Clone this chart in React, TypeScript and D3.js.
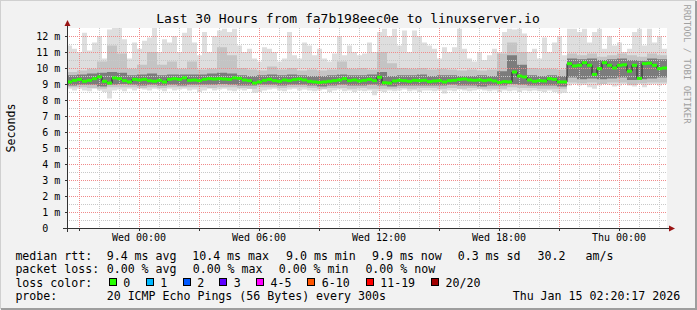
import React from "react";
import * as d3 from "d3";

// ---- data (ms), median every 15 min, smoke envelope every 15 min, inner bands every 30 min ----
const medianRtt = [
  9.13, 9.23, 9.29, 9.17, 9.23, 9.33, 9.44, 9.17, 9.06, 9.38, 9.33, 9.21, 9.13, 9.29, 9.25, 9.29, 9.21, 9.17, 9.23, 9.13, 9.29, 9.33, 9.29, 9.38,
  9.23, 9.25, 9.21, 9.29, 9.33, 9.31, 9.33, 9.31, 9.29, 9.38, 9.35, 9.25, 9.21, 9.06, 9.13, 9.23, 9.29, 9.21, 9.17, 9.25, 9.21, 9.27, 9.31, 9.25,
  9.17, 9.13, 9.10, 9.13, 9.17, 9.21, 9.25, 9.33, 9.21, 9.25, 9.19, 9.23, 9.29, 9.21, 9.42, 9.08, 9.06, 9.19, 9.23, 9.21, 9.17, 9.23, 9.21, 9.23,
  9.15, 9.19, 9.21, 9.13, 9.21, 9.23, 9.29, 9.31, 9.25, 9.23, 9.25, 9.21, 9.25, 9.19, 9.10, 9.15, 9.13, 9.75, 9.50, 9.44, 9.25, 9.17, 9.21, 9.19,
  9.33, 9.29, 9.13, 9.13, 10.27, 10.13, 10.17, 10.33, 10.17, 9.60, 9.96, 10.33, 10.17, 10.0, 10.17, 10.2, 9.80, 10.17, 9.35, 10.27, 10.3, 10.17, 9.96, 10.0,
];

const pingMax = [
  11.4, 11.2, 11.0, 12.2, 11.1, 11.6, 12.0, 10.6, 12.4, 12.5, 12.5, 11.8, 10.6, 11.6, 11.2, 11.7, 11.9, 12.5, 11.0, 11.8, 11.6, 12.0, 11.0, 12.2,
  12.5, 11.6, 10.8, 12.25, 11.0, 12.0, 12.35, 12.45, 12.25, 12.45, 11.4, 11.0, 11.2, 10.6, 10.4, 11.3, 11.2, 11.0, 10.4, 10.6, 12.25, 10.8, 10.6, 11.6,
  11.4, 10.8, 11.2, 10.6, 10.4, 10.9, 12.0, 10.8, 11.4, 11.0, 10.8, 10.9, 11.6, 11.0, 12.25, 12.45, 12.0, 12.45, 11.4, 12.35, 11.0, 12.35, 12.0, 11.6,
  11.4, 11.2, 10.6, 11.3, 11.0, 11.3, 12.45, 11.2, 10.6, 10.4, 11.0, 10.5, 10.8, 11.2, 11.0, 12.25, 12.45, 12.4, 12.45, 12.15, 11.0, 11.2, 10.6, 11.9,
  11.0, 11.6, 12.0, 10.8, 12.45, 12.45, 12.25, 12.45, 11.6, 12.25, 12.45, 11.2, 12.0, 11.4, 11.6, 11.0, 11.2, 12.25, 12.45, 11.4, 12.45, 11.6, 12.0, 11.2,
];

const pingMin = [
  8.7, 8.6, 8.7, 8.6, 8.55, 8.7, 8.6, 8.5, 8.1, 8.6, 8.65, 8.55, 8.7, 8.6, 8.7, 8.65, 8.6, 8.7, 8.65, 8.55, 8.7, 8.6, 8.65, 8.7,
  8.6, 8.65, 8.5, 8.6, 8.7, 8.6, 8.65, 8.7, 8.6, 8.55, 8.65, 8.6, 8.7, 8.45, 8.5, 8.6, 8.65, 8.7, 8.6, 8.55, 8.65, 8.7, 8.6, 8.65,
  8.6, 8.55, 8.6, 8.65, 8.5, 8.6, 8.65, 8.55, 8.6, 8.5, 8.6, 8.55, 8.6, 8.3, 8.55, 8.5, 8.6, 8.55, 8.6, 8.65, 8.55, 8.6, 8.5, 8.6,
  8.6, 8.55, 8.6, 8.4, 8.6, 8.55, 8.65, 8.6, 8.55, 8.6, 8.65, 8.6, 8.55, 8.6, 8.5, 8.6, 8.55, 8.6, 8.5, 8.6, 8.55, 8.6, 8.55, 8.5,
  8.6, 8.5, 8.4, 8.45, 8.9, 9.0, 8.9, 8.95, 8.8, 8.7, 8.9, 9.0, 8.95, 8.85, 8.9, 9.0, 8.9, 8.85, 9.0, 8.8, 8.95, 9.0, 8.9, 9.0,
];

const upperMid = [
  9.75, 9.85, 9.95, 10.4, 11.4, 10.9, 9.95, 10.2, 11.0, 10.2, 10.4, 9.95,
  10.4, 9.9, 9.95, 11.3, 10.8, 10.0, 9.9, 9.85, 10.1, 9.9, 10.0, 9.85,
  9.9, 9.85, 9.9, 10.4, 9.95, 10.0, 9.9, 11.0, 10.3, 10.0, 9.95, 10.0,
  9.9, 9.95, 9.9, 9.85, 9.9, 9.85, 9.9, 10.9, 11.6, 11.0, 10.0, 9.95,
  9.95, 9.9, 10.9, 10.8, 10.9, 10.7, 10.8, 10.9, 10.8, 10.7, 10.9, 10.8,
];
const upperDark = [
  9.55, 9.6, 9.65, 9.7, 9.75, 9.7, 9.55, 9.6, 9.65, 9.55, 9.6, 9.6,
  9.6, 9.6, 9.65, 9.7, 9.65, 9.55, 9.5, 9.55, 9.6, 9.55, 9.6, 9.55,
  9.5, 9.5, 9.55, 9.6, 9.55, 9.55, 9.6, 9.75, 9.5, 9.55, 9.55, 9.6,
  9.5, 9.55, 9.55, 9.5, 9.5, 9.55, 9.5, 9.8, 10.8, 10.2, 9.55, 9.5,
  9.55, 9.5, 10.6, 10.55, 10.6, 10.5, 10.55, 10.6, 10.5, 10.45, 10.6, 10.55,
];
const lowerDark = [
  8.9, 8.95, 8.95, 8.85, 8.95, 9.0, 8.95, 8.9, 8.95, 8.9, 8.95, 8.9,
  8.95, 8.95, 8.95, 9.0, 8.95, 8.9, 8.9, 8.95, 8.95, 8.9, 8.95, 8.95,
  8.9, 8.85, 8.9, 8.95, 8.9, 8.9, 8.95, 8.9, 8.85, 8.9, 8.9, 8.9,
  8.9, 8.9, 8.95, 8.9, 8.9, 8.85, 8.9, 8.9, 9.0, 8.95, 8.9, 8.9,
  8.9, 8.85, 9.4, 9.3, 9.35, 9.3, 9.35, 9.4, 9.25, 9.3, 9.35, 9.4,
];
const lowerMid = [
  8.8, 8.8, 8.75, 8.7, 8.8, 8.8, 8.8, 8.75, 8.8, 8.75, 8.8, 8.8,
  8.8, 8.8, 8.75, 8.8, 8.8, 8.75, 8.7, 8.8, 8.8, 8.75, 8.8, 8.8,
  8.75, 8.7, 8.75, 8.75, 8.7, 8.75, 8.7, 8.7, 8.7, 8.75, 8.7, 8.75,
  8.75, 8.7, 8.75, 8.7, 8.75, 8.7, 8.7, 8.7, 8.8, 8.75, 8.75, 8.7,
  8.7, 8.7, 9.1, 9.05, 9.1, 9.0, 9.1, 9.1, 8.95, 9.05, 9.1, 9.1,
];

const yTickValues = [0, 1, 2, 3, 4, 5, 6, 7, 8, 9, 10, 11, 12];
const yTickLabels = ["0", "1 m", "2 m", "3 m", "4 m", "5 m", "6 m", "7 m", "8 m", "9 m", "10 m", "11 m", "12 m"];
const xTickLabels = ["Wed 00:00", "Wed 06:00", "Wed 12:00", "Wed 18:00", "Thu 00:00"];

const titleText = "Last 30 Hours from fa7b198eec0e to linuxserver.io";
const rttLabel = "median rtt:";
const rttStats = ["9.4 ms avg", "10.4 ms max", "9.0 ms min", "9.9 ms now", "0.3 ms sd", "30.2", "am/s"];
const lossLabel = "packet loss:";
const lossStats = ["0.00 % avg", "0.00 % max", "0.00 % min", "0.00 % now"];
const lossColorLabel = "loss color:";
const lossColorNames = ["0", "1", "2", "3", "4-5", "6-10", "11-19", "20/20"];
const lossColorValues = ["#26ff00", "#00b8ff", "#0059ff", "#5e00ff", "#ff00ff", "#ff5500", "#ff0000", "#a00000"];
const probeLabel = "probe:";
const probeText = "20 ICMP Echo Pings (56 Bytes) every 300s";
const stampText = "Thu Jan 15 02:20:17 2026";

// ---- layout ----
const W = 697, H = 310;
const L = 67, R = 667, T = 28, B = 228;
const FONT = "'DejaVu Sans Mono', monospace";
const rttX = [106.7, 192.2, 286, 372, 457.7, 537.5, 585.5];
const lossX = [106.7, 192.7, 278.7, 365.4];
const boxX = [108.7, 145.7, 182.7, 219.3, 256, 307.3, 365.7, 431];
const legY = [259.7, 273.1, 286.5, 299.9];

export default function App() {
  const start = new Date(2026, 0, 13, 20, 24, 0);
  const end = d3.timeMinute.offset(start, 30 * 60);
  const x = d3.scaleTime().domain([start, end]).range([L, R]);
  const y = d3.scaleLinear().domain([0, 12.5]).range([B, T]);
  const tAt = (i: number, step: number) => d3.timeMinute.offset(start, i * step);

  const band = (lo: number[], hi: number[], step: number) => {
    const pts = lo.map((v, i) => ({ t: tAt(i, step), lo: v, hi: hi[i] }));
    pts.push({ t: tAt(lo.length, step), lo: lo[lo.length - 1], hi: hi[hi.length - 1] });
    return d3
      .area<any>()
      .x((d) => x(d.t))
      .y0((d) => y(d.lo))
      .y1((d) => y(d.hi))
      .curve(d3.curveStepAfter)(pts) as string;
  };

  const medPts = medianRtt.map((v, i) => ({ t: tAt(i, 15), v }));
  medPts.push({ t: tAt(medianRtt.length, 15), v: medianRtt[medianRtt.length - 1] });
  const medLine = d3
    .line<any>()
    .x((d) => x(d.t))
    .y((d) => y(d.v))
    .curve(d3.curveStepAfter)(medPts) as string;

  const hours = d3.timeHour.range(d3.timeMinute.offset(start, 1), end);
  const minorX = hours.filter((h) => h.getHours() % 3 !== 0);
  const majorX = hours.filter((h) => h.getHours() % 3 === 0);
  const labelX = hours.filter((h) => h.getHours() % 6 === 0);
  const minorY = d3.range(0.5, 12.5, 1);
  const majorY = yTickValues.filter((v) => v > 0);

  const crisp = (v: number) => Math.round(v) + 0.5;

  return (
    <svg width={W} height={H} style={{ display: "block", position: "absolute", left: 0, top: 0 }} fontFamily={FONT}>
      <style>{"body{margin:0}"}</style>
      <rect x={0} y={0} width={W} height={H} fill="#f2f2f2" />
      {/* 3D frame */}
      <path d={`M0,${H - 1}V0H${W - 1}`} stroke="#d0d0d0" strokeWidth={2} fill="none" />
      <path d={`M1,${H - 1}H${W - 1}V1`} stroke="#9e9e9e" strokeWidth={2} fill="none" />
      {/* canvas */}
      <rect x={L} y={T} width={R - L} height={B - T} fill="#ffffff" />

      {/* smoke */}
      <path d={band(pingMin, pingMax, 15)} fill="#dedede" />
      <path d={band(lowerMid, upperMid, 30)} fill="#c4c4c4" />
      <path d={band(lowerDark, upperDark, 30)} fill="#7c7c7c" />

      {/* grid */}
      <g strokeDasharray="1,1" strokeWidth={1} fill="none">
        {minorX.map((h, i) => (
          <line key={"mx" + i} x1={crisp(x(h))} x2={crisp(x(h))} y1={T} y2={B} stroke="#c8c8c8" />
        ))}
        {minorY.map((v, i) => (
          <line key={"my" + i} x1={L} x2={R} y1={crisp(y(v))} y2={crisp(y(v))} stroke="#c8c8c8" />
        ))}
        {majorX.map((h, i) => (
          <line key={"Mx" + i} x1={crisp(x(h))} x2={crisp(x(h))} y1={T} y2={B} stroke="#f08a8a" />
        ))}
        {majorY.map((v, i) => (
          <line key={"My" + i} x1={L} x2={R} y1={crisp(y(v))} y2={crisp(y(v))} stroke="#f08a8a" />
        ))}
      </g>

      {/* median */}
      <path d={medLine} fill="none" stroke="#202020" strokeWidth={1} />
      {medianRtt.map((v, i) => (
        <rect
          key={"m" + i}
          x={x(tAt(i, 15))}
          width={x(tAt(i + 1, 15)) - x(tAt(i, 15))}
          y={y(v) - 1.5}
          height={3}
          fill={lossColorValues[0]}
        />
      ))}

      {/* axes */}
      <g stroke="#333" strokeWidth={1}>
        <line x1={L - 4} x2={R + 3} y1={B + 0.5} y2={B + 0.5} />
        <line x1={L + 0.5} x2={L + 0.5} y1={B + 4} y2={T - 4} />
        {majorY.map((v, i) => (
          <line key={"ty" + i} x1={L - 2} x2={L} y1={crisp(y(v))} y2={crisp(y(v))} />
        ))}
        {majorX.map((h, i) => (
          <line key={"tx" + i} x1={crisp(x(h))} x2={crisp(x(h))} y1={B + 1} y2={B + 3} />
        ))}
      </g>
      <path d={`M${L + 0.5},${T - 8}L${L - 2.5},${T - 2}L${L + 3.5},${T - 2}Z`} fill="#9a1414" />
      <path d={`M${R + 8},${B + 0.5}L${R + 2},${B - 2.5}L${R + 2},${B + 3.5}Z`} fill="#9a1414" />

      {/* y tick labels */}
      <g fontSize={10} fill="#000" textAnchor="end">
        {yTickValues.map((v, i) => (
          <text key={"yl" + i} x={yTickLabels[i].length > 1 ? 60.3 : 48.3} y={y(v) + 3.6}>
            {yTickLabels[i]}
          </text>
        ))}
      </g>
      {/* x tick labels */}
      <g fontSize={10} fill="#000" textAnchor="middle">
        {labelX.map((h, i) => (
          <text key={"xl" + i} x={x(h)} y={240.5}>
            {xTickLabels[i]}
          </text>
        ))}
      </g>

      {/* title */}
      <text x={348} y={23} fontSize={13} textAnchor="middle" fill="#000">
        {titleText}
      </text>
      {/* axis title */}
      <text transform="translate(15,128) rotate(-90)" fontSize={11.6} textAnchor="middle" fill="#000">
        Seconds
      </text>
      {/* watermark */}
      <text transform="translate(683.5,64) rotate(90)" fontSize={9} textAnchor="middle" fill="#a0a0a0">
        RRDTOOL / TOBI OETIKER
      </text>

      {/* legend */}
      <g fontSize={11.6} fill="#000" style={{ whiteSpace: "pre" }}>
        <text x={15.4} y={legY[0]}>{rttLabel}</text>
        {rttStats.map((s, i) => (
          <text key={"r" + i} x={rttX[i]} y={legY[0]}>{s}</text>
        ))}
        <text x={15.4} y={legY[1]}>{lossLabel}</text>
        {lossStats.map((s, i) => (
          <text key={"l" + i} x={lossX[i]} y={legY[1]}>{s}</text>
        ))}
        <text x={15.4} y={legY[2]}>{lossColorLabel}</text>
        {lossColorNames.map((s, i) => (
          <g key={"c" + i}>
            <rect x={Math.round(boxX[i]) + 0.5} y={278.5} width={7} height={7} fill={lossColorValues[i]} stroke="#000" strokeWidth={1} />
            <text x={boxX[i] + 14.5} y={legY[2]}>{s}</text>
          </g>
        ))}
        <text x={15.4} y={legY[3]}>{probeLabel}</text>
        <text x={106.7} y={legY[3]}>{probeText}</text>
        <text x={512.7} y={legY[3]}>{stampText}</text>
      </g>
    </svg>
  );
}
